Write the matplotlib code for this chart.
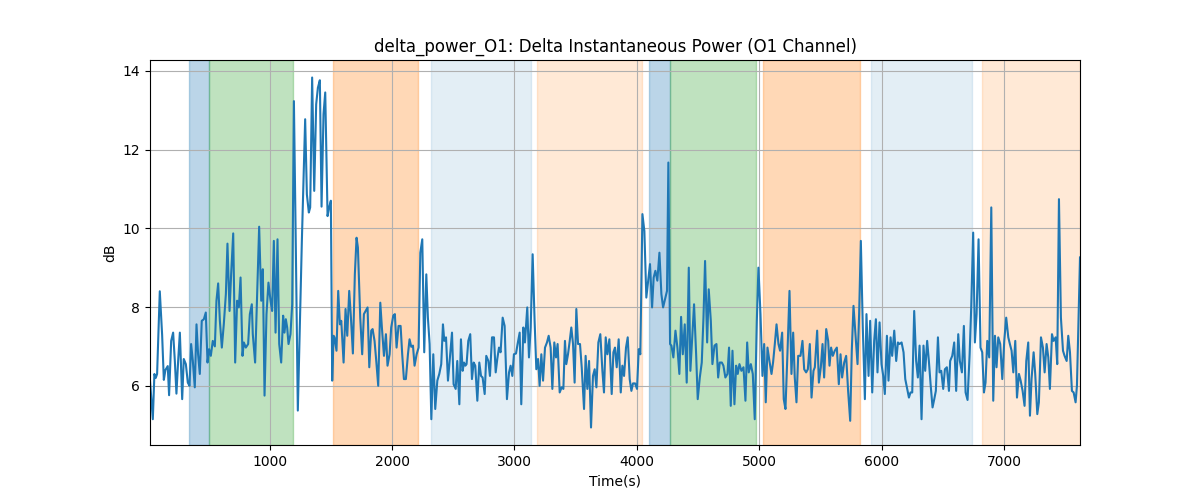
import matplotlib
matplotlib.use("Agg")
import matplotlib.pyplot as plt
import numpy as np

times = [
    22, 45, 58, 69, 80, 102, 121, 135, 148, 167, 178, 195, 211, 225, 238, 252, 266, 285, 298, 315,
    331, 345, 358, 372, 388, 402, 415, 429, 445, 462, 478, 492, 505, 519, 535, 552, 565, 579, 593, 609,
    625, 642, 655, 672, 685, 702, 718, 734, 748, 762, 778, 789, 805, 824, 838, 854,
    862, 881, 898, 914, 931, 944, 958, 974, 990, 1007, 1020, 1034, 1048, 1064, 1078, 1094, 1110, 1121,
    1132, 1143, 1154, 1170, 1184, 1198, 1214, 1230, 1247, 1263, 1290, 1304, 1320, 1331, 1347, 1364,
    1380, 1394, 1410, 1424, 1440, 1454, 1473, 1486, 1500, 1511, 1522, 1530, 1546, 1560, 1574, 1585,
    1604, 1620, 1634, 1650, 1664, 1680, 1696, 1710,
    1721, 1740, 1756, 1770, 1784, 1800, 1814, 1830, 1841, 1857, 1871, 1887, 1904, 1917, 1934, 1950,
    1963, 1980, 1993, 2010, 2023, 2037, 2053, 2070, 2083, 2097, 2113, 2130, 2143, 2157, 2171, 2184,
    2201, 2217, 2231, 2247, 2263, 2280, 2293, 2307, 2321, 2337, 2353, 2370, 2386, 2402, 2416, 2427,
    2441, 2457, 2473, 2490, 2503, 2520, 2533, 2550, 2563,
    2577, 2588, 2599, 2609, 2623, 2639, 2653, 2667, 2680, 2697, 2713, 2727, 2740, 2757, 2770, 2787,
    2800, 2817, 2833, 2847, 2860, 2874, 2887, 2904, 2920, 2939, 2956, 2969, 2983, 2996, 3013, 3026,
    3043, 3056, 3073, 3086, 3105, 3119, 3133, 3149, 3165, 3179, 3193, 3206, 3220, 3234, 3250, 3266,
    3280, 3296, 3310, 3326, 3340, 3353, 3370, 3386, 3400, 3413,
    3424, 3438, 3452, 3465, 3479, 3492, 3506, 3520, 3536, 3550, 3569, 3582, 3596, 3610, 3626, 3642,
    3656, 3670, 3686, 3702, 3719, 3732, 3746, 3760, 3776, 3795, 3809, 3822, 3836, 3852, 3869, 3882,
    3896, 3912, 3926, 3942, 3956, 3969, 3986, 4002, 4016, 4029, 4046, 4062, 4078, 4095, 4108, 4125,
    4138, 4152, 4168, 4185, 4201, 4215, 4231, 4247, 4258,
    4272, 4283, 4299, 4316, 4332, 4348, 4362, 4376, 4392, 4408, 4425, 4438, 4455, 4468, 4485, 4498,
    4515, 4531, 4545, 4558, 4575, 4588, 4605, 4618, 4635, 4651, 4665, 4678, 4695, 4708, 4724, 4741,
    4754, 4768, 4782, 4798, 4812, 4825, 4839, 4855, 4872, 4888, 4902, 4915, 4932, 4948, 4964, 4981,
    4994, 5011, 5027, 5041, 5054, 5068, 5084, 5101, 5114,
    5128, 5142, 5158, 5171, 5188, 5201, 5215, 5231, 5248, 5264, 5278, 5291, 5305, 5319, 5338, 5354,
    5368, 5384, 5398, 5414, 5428, 5444, 5455, 5474, 5488, 5504, 5518, 5531, 5548, 5564, 5575, 5588,
    5602, 5618, 5635, 5651, 5665, 5678, 5695, 5711, 5727, 5744, 5757, 5771, 5787, 5804, 5817, 5831,
    5847, 5864, 5877, 5894, 5907, 5924, 5940, 5954, 5967,
    5984, 6000, 6014, 6027, 6044, 6057, 6074, 6087, 6104, 6120, 6134, 6147, 6164, 6180, 6194, 6210,
    6224, 6237, 6251, 6267, 6283, 6297, 6311, 6327, 6343, 6357, 6373, 6387, 6401, 6417, 6431, 6444,
    6461, 6474, 6488, 6504, 6518, 6534, 6551, 6561, 6578, 6594, 6610, 6627, 6640, 6657, 6673, 6687,
    6703, 6720, 6733, 6749, 6763, 6777, 6793, 6809,
    6823, 6837, 6850, 6864, 6880, 6897, 6913, 6927, 6940, 6954, 6970, 6987, 7003, 7019, 7036, 7049,
    7063, 7077, 7093, 7107, 7123, 7137, 7153, 7169, 7183, 7199, 7213, 7226, 7243, 7256, 7273, 7286,
    7303, 7319, 7333, 7349, 7363, 7376, 7393, 7406, 7423, 7436, 7450, 7466, 7483, 7496, 7513, 7526,
    7540, 7556, 7570, 7586, 7597, 7622,
]

power_db = [
    6.13, 5.15, 6.3, 6.2, 6.3, 8.4, 7.3, 6.15, 6.4, 6.5, 5.76, 7.14, 7.35, 6.63, 5.8, 6.63, 7.35, 5.66, 6.68, 6.55,
    6.08, 6.0, 7.06, 6.63, 5.96, 7.56, 6.8, 6.3, 7.65, 7.69, 7.86, 6.59, 6.93, 6.76, 7.14, 7.0, 8.16, 8.6, 7.65, 6.97,
    7.56, 8.33, 9.61, 7.9, 8.83, 9.87, 6.59, 8.16, 7.99, 8.75, 6.76, 7.1, 6.97, 7.06, 7.82, 8.07,
    7.31, 6.59, 8.33, 10.04, 8.16, 8.96, 5.75, 7.82, 8.62, 8.16, 7.9, 9.68, 7.35, 9.72, 7.06, 6.59, 7.78, 7.35,
    7.69, 7.48, 7.06, 7.31, 8.07, 13.23, 9.43, 5.37, 7.65, 9.68, 12.77, 10.86, 10.4, 10.53, 13.83, 10.95,
    13.15, 13.57, 13.76, 10.55, 12.9, 13.45, 10.31, 10.53, 10.7, 6.13, 7.27, 7.23, 6.89, 8.41, 7.56, 7.65,
    6.59, 7.95, 7.27, 8.41, 7.73, 6.82, 8.83, 9.76,
    9.51, 7.73, 6.8, 7.82, 7.9, 7.99, 6.47, 7.4, 7.44, 7.14, 6.63, 6.0, 8.11, 7.48, 6.76, 7.31,
    6.51, 6.8, 7.48, 7.78, 7.82, 6.97, 7.52, 7.52, 6.8, 6.17, 6.17, 6.8, 7.18, 6.99, 7.02, 6.51,
    6.8, 6.97, 9.38, 9.72, 6.85, 8.83, 7.73, 7.06, 5.15, 6.8, 5.41, 6.13, 6.3, 6.55, 7.56, 7.14,
    7.23, 6.13, 6.72, 7.35, 6.04, 5.92, 6.63, 5.53, 7.18,
    6.38, 6.59, 6.51, 6.55, 7.14, 7.31, 6.17, 6.59, 6.51, 5.62, 6.59, 6.25, 6.21, 5.79, 6.76, 6.63,
    6.25, 7.23, 7.23, 6.34, 6.68, 6.97, 6.85, 7.73, 7.52, 5.66, 6.34, 6.51, 6.25, 6.8, 6.82, 7.06,
    7.35, 5.53, 7.48, 7.1, 7.99, 6.72, 7.48, 9.34, 7.65, 6.42, 6.68, 6.0, 6.8, 6.13, 6.97, 7.1,
    7.27, 6.97, 5.92, 7.1, 6.72, 7.06, 5.83, 5.96, 5.92, 7.14,
    6.55, 6.8, 7.14, 7.48, 7.06, 6.08, 7.95, 7.06, 7.06, 6.47, 5.41, 6.76, 5.92, 6.63, 4.94, 6.25,
    6.42, 5.96, 7.1, 7.31, 6.38, 5.83, 7.23, 6.8, 7.18, 5.79, 6.85, 6.97, 6.47, 7.18, 5.83, 6.51,
    6.25, 6.97, 7.23, 6.17, 5.87, 6.06, 6.06, 5.92, 6.93, 6.8, 10.36, 9.93, 8.24, 8.71, 9.09, 7.99,
    8.75, 8.92, 8.67, 9.38, 8.33, 7.99, 8.2, 8.41, 11.67,
    7.06, 7.02, 6.72, 7.4, 6.97, 6.3, 7.75, 6.8, 7.56, 6.08, 9.0, 6.38, 7.31, 8.07, 6.8, 5.66,
    6.21, 6.59, 7.73, 9.17, 7.1, 8.45, 7.65, 6.55, 7.02, 7.06, 6.21, 6.59, 6.59, 6.51, 6.21, 6.3,
    6.97, 5.49, 6.89, 5.53, 6.51, 6.3, 6.55, 6.38, 6.47, 5.62, 7.1, 6.34, 6.55, 6.3, 5.15, 7.65,
    9.0, 7.82, 6.25, 7.06, 5.58, 6.97, 6.63, 6.3, 6.6,
    7.06, 7.56, 7.06, 6.89, 7.35, 5.66, 5.41, 6.8, 8.41, 6.3, 7.35, 6.21, 5.58, 6.76, 6.76, 7.14,
    6.42, 6.34, 6.42, 7.06, 5.7, 6.38, 6.47, 7.4, 6.08, 6.47, 7.06, 6.21, 7.44, 7.14, 6.51, 6.97,
    6.76, 6.89, 6.97, 6.04, 6.8, 6.21, 6.59, 6.76, 5.87, 5.11, 6.89, 8.03, 7.31, 6.55, 7.82, 9.68,
    7.48, 5.66, 7.82, 6.25, 7.65, 5.83, 7.14, 7.69, 6.34,
    7.61, 6.55, 6.25, 5.79, 7.27, 6.13, 7.23, 6.76, 7.4, 6.63, 7.1, 7.06, 7.1, 6.85, 6.17, 5.92,
    5.7, 5.83, 5.83, 7.9, 6.63, 6.21, 7.02, 5.15, 7.02, 6.38, 7.14, 6.63, 6.04, 5.45, 5.66, 5.87,
    7.23, 6.34, 6.38, 5.92, 6.42, 6.47, 5.87, 6.63, 6.76, 7.1, 5.87, 7.31, 6.63, 6.34, 7.52, 5.83,
    5.64, 6.8, 7.99, 9.89, 7.1, 7.82, 9.72, 6.97,
    6.85, 5.83, 6.08, 7.14, 6.72, 10.53, 5.62, 7.27, 6.47, 7.23, 7.06, 6.17, 7.14, 7.73, 7.23, 7.06,
    6.89, 6.34, 7.14, 5.7, 6.3, 6.13, 5.87, 5.49, 6.63, 7.1, 5.24, 6.17, 6.85, 6.3, 5.28, 5.58,
    7.23, 6.97, 6.34, 7.06, 6.72, 5.92, 7.31, 7.14, 7.23, 6.55, 10.74, 7.73, 6.89, 6.76, 6.63, 7.27,
    6.85, 5.87, 5.83, 5.58, 6.0, 9.26,
]

span_starts = [342, 503, 1519, 2320, 3187, 4103, 4269, 5035, 5913, 6823]
span_ends = [503, 1189, 2211, 3136, 4043, 4269, 4975, 5826, 6741, 7622]
span_colors = ['tab:blue', 'tab:green', 'tab:orange', 'tab:blue', 'tab:orange',
               'tab:blue', 'tab:green', 'tab:orange', 'tab:blue', 'tab:orange']
span_alphas = [0.3, 0.3, 0.3, 0.12, 0.17, 0.3, 0.3, 0.3, 0.12, 0.17]

fig, ax = plt.subplots(figsize=(12, 5), dpi=100)
for s, e, c, a in zip(span_starts, span_ends, span_colors, span_alphas):
    ax.axvspan(s, e, color=c, alpha=a)
ax.plot(times, power_db, color='tab:blue', linewidth=1.5)
ax.set_xlim(min(times), max(times))
ax.grid(True)
ax.set_title('delta_power_O1: Delta Instantaneous Power (O1 Channel)')
ax.set_xlabel('Time(s)')
ax.set_ylabel('dB')
fig.savefig('out.png', dpi=100)
